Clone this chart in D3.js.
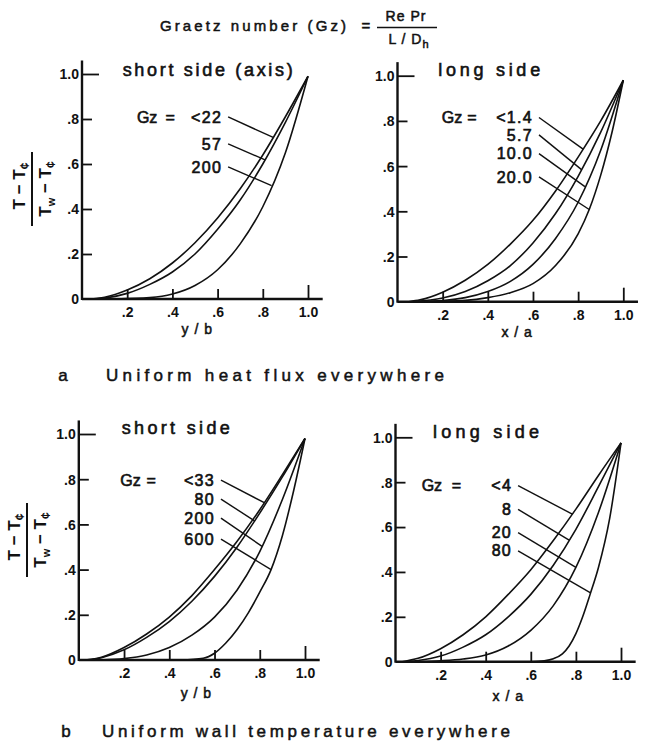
<!DOCTYPE html>
<html><head><meta charset="utf-8">
<script src="https://cdn.jsdelivr.net/npm/d3@7"></script>
<style>
body{margin:0;background:#fff;}
svg text{font-family:"Liberation Sans", Arial, sans-serif; fill:#111;}
</style></head><body>
<svg id="c" width="648" height="743"></svg>
<script>
// ---------- data ----------
const xTickValues = [0.2, 0.4, 0.6, 0.8, 1.0];
const xTickLabels = [".2", ".4", ".6", ".8", "1.0"];
const yTickValues = [0, 0.2, 0.4, 0.6, 0.8, 1.0];
const yTickLabels = ["0", ".2", ".4", ".6", ".8", "1.0"];

// (a) uniform heat flux — short side (axis)
const aShortGz = ["<22", "57", "200"];
const aShortGz22 = [[0.03,0],[0.1,0.008],[0.2,0.04],[0.3,0.09],[0.4,0.16],[0.5,0.25],[0.6,0.36],[0.7,0.49],[0.8,0.64],[0.9,0.81],[1.0,0.99]];
const aShortGz57 = [[0.05,0],[0.1,0.004],[0.2,0.025],[0.3,0.065],[0.4,0.12],[0.5,0.2],[0.6,0.31],[0.7,0.44],[0.8,0.6],[0.9,0.785],[1.0,0.99]];
const aShortGz200 = [[0.15,0],[0.3,0.006],[0.4,0.022],[0.5,0.06],[0.6,0.13],[0.7,0.245],[0.8,0.41],[0.9,0.65],[1.0,0.99]];

// (a) uniform heat flux — long side
const aLongGz = ["<1.4", "5.7", "10.0", "20.0"];
const aLongGz1_4 = [[0.05,0],[0.1,0.008],[0.2,0.042],[0.3,0.095],[0.4,0.165],[0.5,0.255],[0.6,0.36],[0.7,0.49],[0.8,0.64],[0.9,0.8],[1.0,0.98]];
const aLongGz5_7 = [[0.07,0],[0.2,0.016],[0.3,0.045],[0.4,0.093],[0.5,0.16],[0.6,0.26],[0.7,0.39],[0.8,0.555],[0.9,0.75],[1.0,0.98]];
const aLongGz10 = [[0.1,0],[0.2,0.005],[0.3,0.018],[0.4,0.045],[0.5,0.09],[0.6,0.165],[0.7,0.28],[0.8,0.44],[0.9,0.67],[1.0,0.98]];
const aLongGz20 = [[0.12,0],[0.3,0.006],[0.4,0.018],[0.5,0.04],[0.6,0.08],[0.7,0.16],[0.8,0.3],[0.85,0.41],[0.9,0.56],[0.95,0.75],[1.0,0.98]];

// (b) uniform wall temperature — short side
const bShortGz = ["<33", "80", "200", "600"];
const bShortGz33 = [[0.03,0],[0.1,0.012],[0.2,0.055],[0.3,0.115],[0.4,0.19],[0.5,0.285],[0.6,0.4],[0.7,0.525],[0.8,0.665],[0.9,0.82],[1.0,0.98]];
const bShortGz80 = [[0.05,0],[0.1,0.01],[0.2,0.045],[0.3,0.1],[0.4,0.17],[0.5,0.26],[0.6,0.37],[0.7,0.5],[0.8,0.65],[0.9,0.81],[1.0,0.98]];
const bShortGz200 = [[0.1,0],[0.2,0.006],[0.3,0.022],[0.4,0.055],[0.5,0.11],[0.6,0.19],[0.7,0.31],[0.8,0.48],[0.9,0.71],[1.0,0.98]];
const bShortGz600 = [[0.45,0],[0.55,0.008],[0.6,0.03],[0.65,0.075],[0.7,0.135],[0.75,0.21],[0.8,0.3],[0.85,0.4],[0.9,0.55],[0.95,0.75],[1.0,0.98]];

// (b) uniform wall temperature — long side
const bLongGz = ["<4", "8", "20", "80"];
const bLongGz4 = [[0.03,0],[0.1,0.015],[0.2,0.058],[0.3,0.12],[0.4,0.2],[0.5,0.3],[0.6,0.41],[0.7,0.54],[0.8,0.68],[0.9,0.83],[1.0,0.975]];
const bLongGz8 = [[0.05,0],[0.1,0.005],[0.2,0.025],[0.3,0.065],[0.4,0.12],[0.5,0.2],[0.6,0.3],[0.7,0.43],[0.8,0.59],[0.9,0.78],[1.0,0.975]];
const bLongGz20 = [[0.1,0],[0.2,0.004],[0.3,0.012],[0.4,0.03],[0.5,0.07],[0.6,0.14],[0.7,0.25],[0.8,0.42],[0.9,0.665],[1.0,0.975]];
const bLongGz80 = [[0.6,0],[0.66,0.004],[0.7,0.013],[0.74,0.035],[0.77,0.07],[0.8,0.125],[0.83,0.2],[0.863,0.3],[0.9,0.42],[0.95,0.64],[1.0,0.975]];

// ---------- layout ----------
const panels = [
  {xr:[82,308], yr:[299,74], title:"short side (axis)", titleX:0.18, titleLen:170, titleY:1.02,
   xlab:"y / b", xlabX:0.51, xlabDy:30, tickDy:13,
   gz:aShortGz, curves:[aShortGz22, aShortGz57, aShortGz200],
   labEndX:0.62, labYs:[0.809,0.689,0.587], leadEndX:[0.846,0.81,0.839], gzX:0.243, eqX:0.39, gzY:0.809,
   ylab:{x:32, y:189}},
  {xr:[397.5,623.3], yr:[301.7,75.7], title:"long side", titleX:0.18, titleLen:102, titleY:1.025,
   xlab:"x / a", xlabX:0.53, xlabDy:30, tickDy:13,
   gz:aLongGz, curves:[aLongGz1_4, aLongGz5_7, aLongGz10, aLongGz20],
   labEndX:0.60, labYs:[0.815,0.738,0.655,0.552], leadEndX:[0.822,0.815,0.83,0.849], gzX:0.196, eqX:0.33, gzY:0.815},
  {xr:[78.8,305], yr:[660,434], title:"short side", titleX:0.19, titleLen:108, titleY:1.03,
   xlab:"y / b", xlabX:0.52, xlabDy:33, tickDy:13,
   gz:bShortGz, curves:[bShortGz33, bShortGz80, bShortGz200, bShortGz600],
   labEndX:0.602, labYs:[0.796,0.712,0.628,0.535], leadEndX:[0.82,0.777,0.81,0.85], gzX:0.183, eqX:0.32, gzY:0.796,
   ylab:{x:27, y:540}},
  {xr:[395.5,621], yr:[661.7,437.3], title:"long side", titleX:0.166, titleLen:106, titleY:1.025,
   xlab:"x / a", xlabX:0.50, xlabDy:34, tickDy:13,
   gz:bLongGz, curves:[bLongGz4, bLongGz8, bLongGz20, bLongGz80],
   labEndX:0.517, labYs:[0.785,0.679,0.575,0.494], leadEndX:[0.784,0.77,0.80,0.865], gzX:0.116, eqX:0.27, gzY:0.785}
];

const svg = d3.select("#c");
const ink = "#111";
function heavy(sel, w){ return sel.attr("stroke", ink).attr("stroke-width", w || 0.5).attr("paint-order","stroke"); }

function interp(curve, xv){
  for(let i=1;i<curve.length;i++){
    if(xv<=curve[i][0]){
      const [x0,y0]=curve[i-1],[x1,y1]=curve[i];
      return y0+(y1-y0)*(xv-x0)/(x1-x0);
    }
  }
  return curve[curve.length-1][1];
}

panels.forEach(p=>{
  const x = d3.scaleLinear().domain([0,1]).range(p.xr);
  const y = d3.scaleLinear().domain([0,1]).range(p.yr);
  const g = svg.append("g");

  // axis lines
  g.append("line").attr("x1",x(0)).attr("x2",x(1.065)).attr("y1",y(0)).attr("y2",y(0))
    .attr("stroke",ink).attr("stroke-width",2.4);
  g.append("line").attr("x1",x(0)).attr("x2",x(0)).attr("y1",y(0)+1).attr("y2",y(1.06))
    .attr("stroke",ink).attr("stroke-width",2.4);

  // x axis ticks
  const xa = g.append("g").attr("transform",`translate(0,${y(0)})`)
    .call(d3.axisBottom(x).tickValues(xTickValues).tickSize(-10).tickSizeOuter(0)
      .tickPadding(0).tickFormat((d,i)=>xTickLabels[i]));
  xa.select(".domain").remove();
  xa.selectAll(".tick line").attr("stroke",ink).attr("stroke-width",1.8)
    .attr("y2",d=>d===1?-14:-10);
  xa.selectAll(".tick text").attr("y",p.tickDy).attr("dy","0.35em")
    .attr("font-size",14).attr("font-weight","bold").attr("fill",ink).attr("font-family","Liberation Sans");

  // y axis ticks
  const ya = g.append("g").attr("transform",`translate(${x(0)},0)`)
    .call(d3.axisLeft(y).tickValues(yTickValues).tickSize(-10).tickSizeOuter(0)
      .tickPadding(2).tickFormat((d,i)=>yTickLabels[i]));
  ya.select(".domain").remove();
  ya.selectAll(".tick line").attr("stroke",ink).attr("stroke-width",1.8)
    .attr("x2",d=>d===1?17:(d===0?0:10));
  ya.selectAll(".tick text").attr("x",-3).attr("dy","0.35em")
    .attr("font-size",14).attr("font-weight","bold").attr("fill",ink).attr("font-family","Liberation Sans");

  // curves
  const line = d3.line().x(d=>x(d[0])).y(d=>y(d[1])).curve(d3.curveMonotoneX);
  p.curves.forEach(c=>{
    g.append("path").attr("d",line(c)).attr("fill","none").attr("stroke",ink).attr("stroke-width",1.6);
  });

  // title
  heavy(g.append("text").attr("x",x(p.titleX)).attr("y",y(p.titleY)).attr("dy","0.35em")
    .attr("font-size",18).attr("textLength",p.titleLen).attr("lengthAdjust","spacing")
    .text(p.title), 0.6);

  // Gz labels
  heavy(g.append("text").attr("x",x(p.gzX)).attr("y",y(p.gzY)).attr("dy","0.35em")
    .attr("font-size",16).text("Gz"), 0.6);
  heavy(g.append("text").attr("x",x(p.eqX)).attr("y",y(p.gzY)).attr("dy","0.35em")
    .attr("text-anchor","middle").attr("font-size",16).text("="), 0.6);
  p.gz.forEach((lab,i)=>{
    heavy(g.append("text").attr("x",x(p.labEndX)).attr("y",y(p.labYs[i])).attr("dy","0.35em")
      .attr("text-anchor","end").attr("font-size",16).attr("letter-spacing",1.3).text(lab), 0.65);
    const ex = p.leadEndX[i];
    g.append("line").attr("x1",x(p.labEndX)+6).attr("y1",y(p.labYs[i]))
      .attr("x2",x(ex)).attr("y2",y(interp(p.curves[i],ex)))
      .attr("stroke",ink).attr("stroke-width",1.4);
  });

  // x axis label
  heavy(g.append("text").attr("x",x(p.xlabX)).attr("y",y(0)+p.xlabDy).attr("dy","0.35em")
    .attr("text-anchor","middle").attr("font-size",14).attr("letter-spacing",1)
    .text(p.xlab), 0.5);

  // y axis label (fraction)
  if(p.ylab){
    const yl = g.append("g").attr("transform",`translate(${p.ylab.x},${p.ylab.y}) rotate(-90)`);
    const num = yl.append("text").attr("x",3).attr("y",-7).attr("text-anchor","middle")
      .attr("font-size",17).attr("font-weight","bold");
    num.append("tspan").text("T − T");
    num.append("tspan").attr("font-size",12).attr("dy",4).text("¢");
    yl.append("line").attr("x1",-37).attr("x2",37).attr("y1",0).attr("y2",0)
      .attr("stroke",ink).attr("stroke-width",2);
    const den = yl.append("text").attr("x",0).attr("y",19).attr("text-anchor","middle")
      .attr("font-size",17).attr("font-weight","bold");
    den.append("tspan").text("T");
    den.append("tspan").attr("font-size",11).attr("dy",4).text("w");
    den.append("tspan").attr("dy",-4).text(" − T");
    den.append("tspan").attr("font-size",12).attr("dy",4).text("¢");
  }
});

// top title
heavy(svg.append("text").attr("x",160).attr("y",26).attr("dy","0.35em").attr("font-size",15)
  .attr("textLength",186).attr("lengthAdjust","spacing").text("Graetz number (Gz)"), 0.5);
heavy(svg.append("text").attr("x",366).attr("y",26).attr("dy","0.35em").attr("font-size",15)
  .attr("text-anchor","middle").text("="), 0.5);
heavy(svg.append("text").attr("x",406).attr("y",16).attr("dy","0.35em").attr("font-size",14)
  .attr("text-anchor","middle").attr("letter-spacing",1).text("Re Pr"), 0.5);
svg.append("line").attr("x1",377).attr("x2",437).attr("y1",27.5).attr("y2",27.5)
  .attr("stroke",ink).attr("stroke-width",1.6);
const dh = heavy(svg.append("text").attr("x",409).attr("y",39).attr("dy","0.35em").attr("font-size",14)
  .attr("text-anchor","middle").attr("letter-spacing",1), 0.5);
dh.append("tspan").text("L / D");
dh.append("tspan").attr("font-size",11).attr("dy",4).text("h");

// captions
heavy(svg.append("text").attr("x",63).attr("y",375).attr("dy","0.35em").attr("text-anchor","middle")
  .attr("font-size",17).text("a"), 0.5);
heavy(svg.append("text").attr("x",106).attr("y",375).attr("dy","0.35em").attr("font-size",17)
  .attr("textLength",338).attr("lengthAdjust","spacing").text("Uniform heat flux everywhere"), 0.5);
heavy(svg.append("text").attr("x",66).attr("y",731).attr("dy","0.35em").attr("text-anchor","middle")
  .attr("font-size",17).text("b"), 0.5);
heavy(svg.append("text").attr("x",102).attr("y",731).attr("dy","0.35em").attr("font-size",17)
  .attr("textLength",408).attr("lengthAdjust","spacing").text("Uniform wall temperature everywhere"), 0.5);
</script>
</body></html>
